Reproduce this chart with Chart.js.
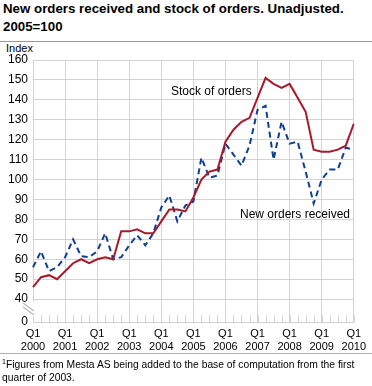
<!DOCTYPE html>
<html>
<head>
<meta charset="utf-8">
<script src="https://cdn.jsdelivr.net/npm/chart.js@4.4.0/dist/chart.umd.min.js"></script>
<style>
    body { margin: 0; background: #fff; font-family: Arial, "Liberation Sans", sans-serif; color: #000; }
    #wrap { position: relative; width: 372px; height: 386px; overflow: hidden; }
    #title { position: absolute; left: 3px; top: 0px; font-weight: bold; font-size: 13.3px; line-height: 18px; }
    .rule { position: absolute; left: 0; width: 372px; height: 1px; background: #9a9a9a; }
    #index { position: absolute; left: 6px; top: 42px; font-size: 11px; }
    .lbl { position: absolute; font-size: 12px; white-space: nowrap; }
    #note { position: absolute; left: 2px; top: 355px; font-size: 10.3px; line-height: 13px; }
    #note sup { font-size: 7px; }
    canvas { position: absolute; left: 0; top: 0; }
</style>
</head>
<body>
<div id="wrap">
    <div id="title">New orders received and stock of orders. Unadjusted.<br>2005=100</div>
    <div class="rule" style="top:41px"></div>
    <div id="index">Index</div>
    <canvas id="lineChart" width="372" height="386"></canvas>
    <div class="lbl" style="left:171px; top:84px">Stock of orders</div>
    <div class="lbl" style="left:240px; top:207px">New orders received</div>
    <div class="rule" style="top:353px; background:#b0b0b0"></div>
    <div id="note"><sup>1</sup>Figures from Mesta AS being added to the base of computation from the first quarter of 2003.</div>
</div>
<script>
/*global Chart, document*/
'use strict';

// ------------------------------------------------------- //
// Data
// ------------------------------------------------------ //
var years = ['2000', '2001', '2002', '2003', '2004', '2005', '2006', '2007', '2008', '2009', '2010'];
var quarters = ['Q1', 'Q2', 'Q3', 'Q4'];

var stockOfOrders = [
    46, 51, 52, 50, 54, 58, 60, 58, 60, 61, 60, 74, 74, 75, 73, 73, 79, 85, 85, 84,
    91, 100, 104, 105, 119, 125, 129, 131, 141, 151, 148, 146, 148, 141, 134, 115, 114, 114, 115, 117, 128
];
var newOrders = [
    56, 64, 54, 56, 61, 70, 61.5, 61, 64, 73, 60, 61, 67, 72, 67, 73, 86, 92, 79, 87,
    89, 111, 101, 102, 118, 112.5, 107, 117, 135, 137, 110, 129, 118, 119, 104, 88, 100, 105, 105, 116, 115
];

var yTicks = [40, 50, 60, 70, 80, 90, 100, 110, 120, 130, 140, 150, 160];
var yBreak = 28.5; // shown as 0 under the axis break

var labels = [];
for (var y = 0; y < years.length; y++) {
    for (var q = 0; q < quarters.length; q++) {
        if (labels.length < stockOfOrders.length) {
            labels.push([quarters[q], years[y]]);
        }
    }
}

var red = '#a8192b';
var blue = '#0f3f8e';
var gridColor = '#d3d3d3';

// quarter ticks along the bottom + broken y axis
var extras = {
    id: 'extras',
    afterDraw: function (chart) {
        var ctx = chart.ctx;
        var xs = chart.scales.x;
        var ys = chart.scales.y;
        var area = chart.chartArea;
        ctx.save();
        ctx.strokeStyle = gridColor;
        ctx.lineWidth = 1;
        for (var i = 0; i < labels.length; i++) {
            var px = Math.round(xs.getPixelForValue(i)) + 0.5;
            ctx.beginPath();
            ctx.moveTo(px, area.bottom - 7);
            ctx.lineTo(px, area.bottom);
            ctx.stroke();
        }
        // break in the y axis
        var by = ys.getPixelForValue(35);
        ctx.fillStyle = '#fff';
        ctx.fillRect(area.left - 2, by - 7, 5, 14);
        ctx.strokeStyle = '#b8b8b8';
        ctx.lineWidth = 1.2;
        ctx.beginPath();
        ctx.moveTo(area.left - 10, by - 6);
        ctx.lineTo(area.left + 1, by + 2);
        ctx.moveTo(area.left - 10, by - 2);
        ctx.lineTo(area.left + 1, by + 6);
        ctx.stroke();
        ctx.restore();
    }
};

var myLineChart = new Chart(document.getElementById('lineChart'), {
    type: 'line',
    plugins: [extras],
    data: {
        labels: labels,
        datasets: [
            {
                label: 'Stock of orders',
                data: stockOfOrders,
                borderColor: red,
                borderWidth: 2,
                pointRadius: 0,
                tension: 0,
                fill: false
            },
            {
                label: 'New orders received',
                data: newOrders,
                borderColor: blue,
                borderWidth: 2,
                borderDash: [6, 4],
                pointRadius: 0,
                tension: 0,
                fill: false
            }
        ]
    },
    options: {
        responsive: false,
        animation: false,
        events: [],
        layout: { padding: { top: 60, right: 13, bottom: 0, left: 0 } },
        plugins: {
            legend: { display: false },
            tooltip: { enabled: false }
        },
        scales: {
            x: {
                offset: false,
                afterFit: function (scale) { scale.height = 64; },
                grid: {
                    drawTicks: false,
                    color: function (c) {
                        return c.index % 4 === 0 ? gridColor : 'rgba(0,0,0,0)';
                    }
                },
                border: { color: gridColor },
                ticks: {
                    autoSkip: false,
                    maxRotation: 0,
                    padding: 6,
                    color: '#000',
                    font: { family: 'Arial, "Liberation Sans"', size: 11, lineHeight: 1.15 },
                    callback: function (v, i) {
                        return i % 4 === 0 ? labels[i] : '';
                    }
                }
            },
            y: {
                min: yBreak,
                max: 160,
                afterFit: function (scale) { scale.width = 33; },
                afterBuildTicks: function (scale) {
                    scale.ticks = [{ value: yBreak }].concat(yTicks.map(function (t) { return { value: t }; }));
                },
                grid: {
                    drawTicks: false,
                    color: function (c) {
                        return c.tick && c.tick.value >= 40 ? gridColor : 'rgba(0,0,0,0)';
                    }
                },
                border: { color: gridColor },
                ticks: {
                    padding: 5,
                    color: '#000',
                    font: { family: 'Arial, "Liberation Sans"', size: 12 },
                    callback: function (v) {
                        return v < 40 ? '0' : v;
                    }
                }
            }
        }
    }
});
</script>
</body>
</html>
